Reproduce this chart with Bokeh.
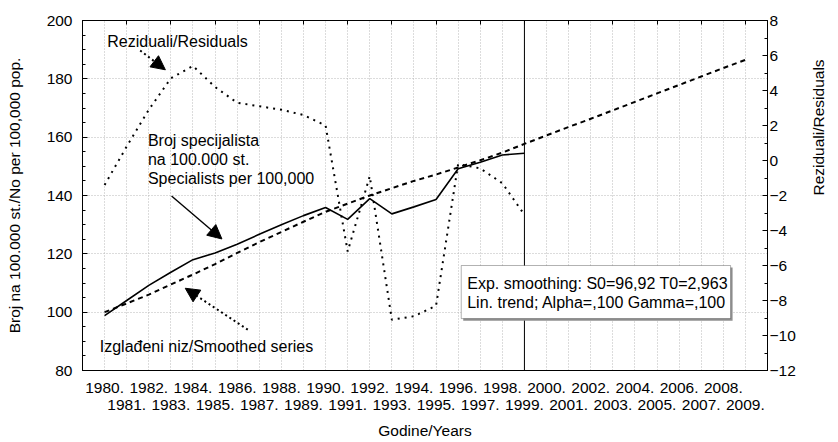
import math
from bokeh.plotting import figure
from bokeh.models import (Range1d, LinearAxis, FixedTicker, SingleIntervalTicker, Span,
                          BoxAnnotation, Label, Arrow, NormalHead)
from bokeh.embed import file_html
from bokeh.resources import INLINE

# ---------------- data ----------------
years_obs = list(range(1980, 2000))
specialists = [98.8, 104.0, 109.2, 113.7, 118.0, 120.3, 123.3, 126.7, 130.0, 133.1,
               135.9, 131.8, 138.9, 133.7, 136.1, 138.6, 149.2, 151.4, 153.9, 154.5]
residuals = [-1.4, 0.8, 2.9, 4.7, 5.4, 4.2, 3.3, 3.1, 2.9, 2.6,
             2.0, -5.2, -0.9, -9.1, -8.9, -8.3, -0.2, -0.45, -1.3, -3.1]
years_all = list(range(1980, 2010))
smoothed = [100.0, 103.0, 106.0, 109.5, 112.9, 116.5, 120.3, 124.0, 127.5, 131.0,
            134.4, 137.2, 140.0, 142.5, 145.0, 147.2, 149.6, 152.1, 154.7, 157.7,
            160.6, 163.5, 166.3, 169.2, 172.1, 175.0, 177.9, 180.8, 183.7, 186.5]
years_even = list(range(1980, 2010, 2))
years_odd = list(range(1981, 2010, 2))
left_grid = [100, 120, 140, 160, 180]
res_ticks = [-12, -10, -8, -6, -4, -2, 0, 2, 4, 6, 8]
res_labels = ["\u221212", "\u221210", "\u22128", "\u22126", "\u22124", "\u22122", "0", "2", "4", "6", "8"]
forecast_start = 1999

FONT = "Liberation Sans"
FS = "15.5px"
FA = "16px"

p = figure(width=838, height=442, x_range=Range1d(1979, 2010), y_range=Range1d(80, 200),
           output_backend="svg", toolbar_location=None,
           min_border_left=82, min_border_right=67, min_border_top=20, min_border_bottom=72)
p.background_fill_color = "white"
p.border_fill_color = "white"
p.outline_line_color = "black"
p.outline_line_width = 1
p.extra_y_ranges = {"res": Range1d(-12, 8)}

# grids
p.xgrid.ticker = FixedTicker(ticks=years_all)
p.ygrid.ticker = FixedTicker(ticks=left_grid)
for g in (p.xgrid[0], p.ygrid[0]):
    g.grid_line_color = "#b8b8b8"
    g.grid_line_dash = "1 2"
    g.grid_line_width = 1

# left axis
ya = p.yaxis[0]
ya.ticker = SingleIntervalTicker(interval=20, num_minor_ticks=4)
ya.major_tick_in = 5
ya.major_tick_out = 0
ya.minor_tick_in = 3
ya.minor_tick_out = 0
ya.major_label_standoff = 10
ya.major_label_text_font = FONT
ya.major_label_text_font_size = FS
ya.major_label_text_color = "black"
ya.axis_label = "Broj na 100.000 st./No per 100,000 pop."
ya.axis_label_text_font = FONT
ya.axis_label_text_font_size = FS
ya.axis_label_text_font_style = "normal"
ya.axis_label_text_color = "black"
ya.axis_label_standoff = 21
ya.axis_line_color = "black"

# right axis
ra = LinearAxis(y_range_name="res", ticker=SingleIntervalTicker(interval=2, num_minor_ticks=2))
ra.major_label_overrides = dict(zip(res_ticks, res_labels))
ra.major_tick_in = 5
ra.major_tick_out = 0
ra.minor_tick_in = 3
ra.minor_tick_out = 0
ra.major_label_standoff = 2
ra.major_label_text_font = FONT
ra.major_label_text_font_size = FS
ra.major_label_text_color = "black"
ra.axis_line_color = "black"
ra.axis_label = "Reziduali/Residuals"
ra.axis_label_text_font = FONT
ra.axis_label_text_font_size = FS
ra.axis_label_text_font_style = "normal"
ra.axis_label_text_color = "black"
ra.axis_label_standoff = 20
if "axis_label_orientation" in LinearAxis.properties():
    ra.axis_label_orientation = math.pi / 2
p.add_layout(ra, "right")

# bottom axes (staggered labels)
xa = p.xaxis[0]
xa.ticker = FixedTicker(ticks=years_even)
xa.major_label_overrides = {y: f"{y}." for y in years_even}
xa.major_tick_in = 0
xa.major_tick_out = 0
xa.minor_tick_in = 0
xa.minor_tick_out = 0
xa.major_label_standoff = 12
xa.major_label_text_font = FONT
xa.major_label_text_font_size = FS
xa.major_label_text_color = "black"
xa.axis_line_color = "black"

xb = LinearAxis(ticker=FixedTicker(ticks=years_odd))
xb.major_label_overrides = {y: f"{y}." for y in years_odd}
xb.major_tick_in = 0
xb.major_tick_out = 0
xb.minor_tick_in = 0
xb.minor_tick_out = 0
xb.major_label_standoff = 4
xb.major_label_text_font = FONT
xb.major_label_text_font_size = FS
xb.major_label_text_color = "black"
xb.axis_line_color = None
xb.axis_label = "Godine/Years"
xb.axis_label_text_font = FONT
xb.axis_label_text_font_size = FS
xb.axis_label_text_font_style = "normal"
xb.axis_label_text_color = "black"
xb.axis_label_standoff = 9
p.add_layout(xb, "below")

# top axis: inward ticks only
ta = LinearAxis(ticker=FixedTicker(ticks=years_odd))
ta.major_label_overrides = {y: "" for y in years_odd}
ta.major_tick_in = 4
ta.major_tick_out = 0
ta.minor_tick_in = 0
ta.minor_tick_out = 0
ta.major_label_standoff = 0
ta.axis_line_color = "black"
p.add_layout(ta, "above")

# series
p.line(years_all, smoothed, line_color="black", line_width=2, line_dash="5 4")
p.line(years_obs, specialists, line_color="black", line_width=1.6)
p.line(years_obs, residuals, y_range_name="res", line_color="black", line_width=2, line_dash="2 5")

# forecast start line
p.add_layout(Span(location=forecast_start, dimension="height", line_color="black", line_width=1))

# parameter box with shadow
p.add_layout(BoxAnnotation(left=1996.23, right=2008.42, bottom=97.1, top=115.3,
                           fill_color="#909090", fill_alpha=1, line_color=None))
p.add_layout(BoxAnnotation(left=1996.14, right=2008.33, bottom=97.8, top=116.0,
                           fill_color="white", fill_alpha=1, line_color="black", line_width=1))
for txt, yv in (("Exp. smoothing: S0=96,92 T0=2,963", 109.8),
                ("Lin. trend; Alpha=,100 Gamma=,100", 103.3)):
    p.add_layout(Label(x=1996.41, y=yv, text=txt, text_font=FONT, text_font_size=FA,
                       text_baseline="middle", text_align="left", text_color="black"))

# annotations
p.add_layout(Label(x=1980.12, y=192.8, text="Reziduali/Residuals", text_font=FONT,
                   text_font_size=FA, text_baseline="middle", text_color="black"))
for txt, yv in (("Broj specijalista", 158.9), ("na 100.000 st.", 152.3),
                ("Specialists per 100,000", 145.8)):
    p.add_layout(Label(x=1981.96, y=yv, text=txt, text_font=FONT, text_font_size=FA,
                       text_baseline="middle", text_color="black"))
p.add_layout(Label(x=1979.78, y=88.2, text="Izgla\u0111eni niz/Smoothed series", text_font=FONT,
                   text_font_size=FA, text_baseline="middle", text_color="black"))

p.add_layout(Arrow(end=NormalHead(size=14, fill_color="black", line_color="black"),
                   x_start=1981.61, y_start=189.7, x_end=1982.75, y_end=183.1,
                   line_color="black", line_width=2, line_dash="2 3"))
p.add_layout(Arrow(end=NormalHead(size=14, fill_color="black", line_color="black"),
                   x_start=1983.03, y_start=139.8, x_end=1985.31, y_end=125.1,
                   line_color="black", line_width=1.4))
p.add_layout(Arrow(end=NormalHead(size=14, fill_color="black", line_color="black"),
                   x_start=1986.48, y_start=94.0, x_end=1983.65, y_end=108.2,
                   line_color="black", line_width=2, line_dash="2 3"))

open("out.html", "w").write(file_html(p, INLINE))
